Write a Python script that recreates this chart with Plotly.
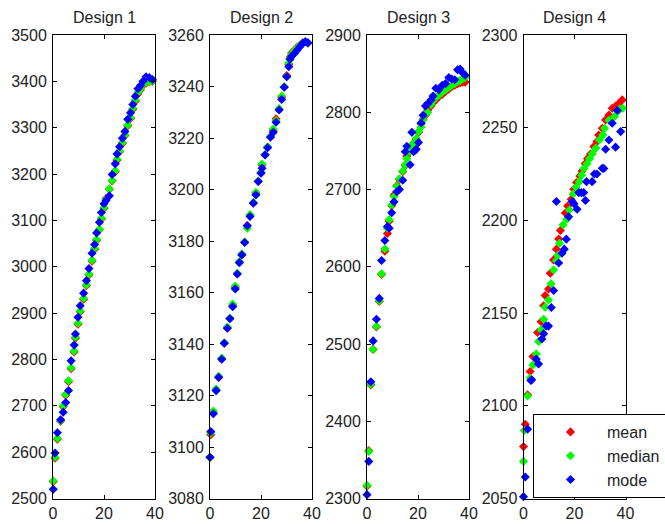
import plotly.graph_objects as go

titles = ["Design 1", "Design 2", "Design 3", "Design 4"]
x_tick_vals = [0, 20, 40]

# Design 1
d1_x = [0.1, 0.8, 1.7, 3.0, 4.0, 5.0, 6.1, 7.1, 8.3, 8.8, 9.8, 10.7, 12.0, 13.1, 14.1, 15.3, 16.3, 17.1, 18.2, 19.0,
        20.0, 20.8, 22.1, 23.2, 24.4, 25.1, 26.1, 27.2, 28.2, 29.3, 30.4, 31.3, 32.3, 33.3, 34.3, 35.3, 36.5, 37.8, 39.0]
d1_mean = [2536, 2587, 2628, 2667, 2698, 2723, 2752, 2780, 2816, 2846, 2876, 2903, 2930, 2959, 2982, 3012, 3038, 3057, 3080, 3103,
           3126, 3147, 3167, 3185, 3205, 3230, 3248, 3266, 3283, 3304, 3320, 3340, 3357, 3373, 3382, 3392, 3396, 3399, 3400]
d1_median = [2538, 2589, 2630, 2668, 2700, 2725, 2754, 2782, 2818, 2848, 2878, 2905, 2932, 2961, 2984, 3014, 3040, 3059, 3081, 3105,
             3128, 3145, 3168, 3186, 3207, 3232, 3250, 3268, 3285, 3306, 3322, 3342, 3360, 3376, 3384, 3394, 3398, 3400, 3401]
d1_mode = [2520, 2598, 2642, 2670, 2686, 2707, 2733, 2797, 2831, 2855, 2891, 2916, 2943, 2970, 2996, 3029, 3048, 3073, 3096, 3117,
           3136, 3143, 3153, 3199, 3222, 3243, 3259, 3277, 3292, 3318, 3332, 3350, 3368, 3384, 3391, 3400, 3410, 3408, 3404]

# Design 2
d2_x = [0.0, 0.3, 1.3, 2.4, 3.4, 4.6, 5.6, 6.8, 7.8, 8.9, 9.9, 10.7, 11.5, 12.5, 13.6, 14.6, 15.7, 17.0, 18.0, 18.9,
        20.0, 20.4, 21.6, 22.6, 23.7, 24.8, 25.9, 27.1, 28.1, 29.1, 30.1, 30.9, 31.4, 32.0, 33.2, 34.2, 35.3, 36.4, 37.4, 38.4]
d2_mean = [3096, 3104.8, 3113.5, 3122, 3127, 3134.3, 3140.3, 3146.3, 3150, 3155, 3162, 3167.3, 3171.8, 3174.7, 3179.5, 3186, 3190, 3194.8, 3198.5, 3203.2,
           3206.5, 3209.5, 3213.5, 3216.4, 3220.5, 3223, 3227.5, 3231.2, 3235.8, 3239.8, 3244.3, 3248.5, 3251.4, 3253, 3254.2, 3255.2, 3256.2, 3257, 3257.5, 3256.8]
d2_median = [3096, 3105.5, 3114, 3122.5, 3127.5, 3134.5, 3140.5, 3146.6, 3150, 3155.5, 3162.5, 3167.5, 3172, 3175, 3179.6, 3185, 3190.3, 3195, 3198.9, 3203.3,
             3206.8, 3209.9, 3213.6, 3216.6, 3220.6, 3223.5, 3226.8, 3231.4, 3236.3, 3239.9, 3243.8, 3249, 3251, 3252.5, 3254, 3255, 3256, 3256.9, 3257.4, 3256.9]
d2_mode = [3096, 3106, 3112.9, 3121.9, 3127.1, 3134.1, 3140.3, 3146.1, 3149.8, 3154.5, 3161.4, 3167.2, 3171.6, 3174.6, 3179.4, 3185.9, 3189.5, 3194.7, 3197.9, 3203.1,
           3206.3, 3208.3, 3213.4, 3216.2, 3220.3, 3222.2, 3226.1, 3230.9, 3235, 3239.7, 3243.8, 3247.7, 3250.6, 3251.7, 3252.9, 3254.2, 3255.5, 3256.8, 3257.4, 3257]

# Design 3
d3_x = [0, 0.7, 1.5, 2.4, 3.7, 4.8, 5.7, 7.0, 8.0, 8.7, 9.7, 10.6, 11.7, 12.7, 14.0, 15.0, 15.6, 16.9, 17.6, 18.3,
        19.3, 20.2, 21.2, 22.0, 22.9, 23.8, 25.1, 25.9, 27.0, 28.2, 29.5, 30.8, 32.1, 33.2, 34.4, 35.5, 36.5, 37.5, 38.5]
d3_mean = [2316, 2362, 2447, 2493, 2522, 2555, 2590, 2620, 2643, 2659, 2679, 2693, 2705, 2713, 2723, 2731, 2743, 2752, 2756, 2760,
           2765, 2774, 2785, 2791, 2796, 2803, 2808, 2812, 2816, 2820, 2823, 2827, 2830, 2833, 2835, 2837, 2838, 2839, 2839]
d3_median = [2317, 2361, 2448, 2493, 2523, 2556, 2591, 2623, 2650, 2661, 2680, 2691, 2704, 2714, 2724, 2732, 2740, 2749, 2755, 2760,
             2766, 2775, 2781, 2790, 2797, 2800, 2810, 2815, 2819, 2822, 2826, 2829, 2832, 2835, 2837, 2840, 2841, 2843, 2845]
d3_mode = [2305, 2348, 2451, 2504, 2532, 2559, 2608, 2634, 2652, 2650, 2670, 2684, 2697, 2700, 2712, 2749, 2756, 2732, 2774, 2749,
           2752, 2761, 2786, 2796, 2808, 2811, 2816, 2821, 2831, 2829, 2835, 2837, 2845, 2843, 2842, 2855, 2856, 2851, 2848]

# Design 4
d4_mean_x = [0, 0.7, 1.6, 2.6, 3.7, 5.5, 6.9, 7.9, 8.5, 9.8, 10.5, 11.8, 12.9, 13.8, 14.5, 16.4, 17.3, 18.7, 19.7, 20.8,
             22.1, 23.0, 24.2, 25.1, 26.3, 27.6, 28.8, 29.5, 30.9, 32.2, 33.5, 34.8, 36.1, 37.4, 38.7]
d4_mean = [2078, 2090, 2106, 2118.5, 2126.6, 2139.5, 2145.4, 2154, 2159.5, 2163, 2171.5, 2178.7, 2184.5, 2190, 2194.6, 2204, 2207.8, 2211.4, 2216.8, 2220.4,
           2224, 2226.6, 2230.6, 2233.3, 2235.8, 2239.8, 2242.5, 2246.1, 2249.7, 2254.2, 2256.8, 2260.5, 2261.7, 2263.1, 2265]
d4_median_x = [0, 0.3, 1.6, 2.6, 3.7, 5.0, 5.9, 6.9, 7.9, 8.5, 9.8, 10.8, 11.8, 12.9, 13.5, 14.1, 15.5, 17.0, 18.0, 19.5,
               20.6, 21.9, 22.8, 23.7, 24.9, 25.9, 27.0, 28.4, 29.8, 31.1, 31.8, 33.5, 35.7, 36.8, 37.7, 38.9]
d4_median = [2070, 2086.7, 2105.3, 2115, 2122, 2128, 2134.7, 2141, 2146.7, 2153.2, 2157.1, 2165.8, 2173.3, 2178.3, 2181.2, 2187.7, 2197.6, 2200.6, 2205.6, 2214.2,
             2217.9, 2220.9, 2224.4, 2228, 2230.6, 2233.3, 2236, 2239, 2243.4, 2246, 2249.7, 2254, 2256, 2258.7, 2260, 2260.5]
d4_mode_x = [0, 0.7, 1.6, 2.9, 3.2, 5.0, 5.9, 7.2, 7.9, 8.9, 9.8, 10.9, 11.8, 12.9, 13.8, 15.1, 16.0, 16.8, 17.7, 19.1,
             19.8, 21.0, 21.7, 22.7, 23.6, 24.3, 24.7, 26.9, 27.8, 28.8, 30.9, 31.5, 32.2, 33.5, 34.8, 36.1, 36.8, 38.1]
d4_mode = [2051, 2061.6, 2087.4, 2113.7, 2114, 2125.2, 2122.6, 2136, 2138.8, 2143.1, 2143, 2153, 2162.2, 2210.2, 2177, 2182.3, 2184.5, 2189.9, 2202, 2210.2,
           2209, 2206, 2215, 2215, 2215, 2210.7, 2220.9, 2220.9, 2225, 2225, 2228.1, 2228, 2238.4, 2243.4, 2252.4, 2239.5, 2259.3, 2247.9]

y_ranges = [[2500, 3500], [3080, 3260], [2300, 2900], [2050, 2300]]
y_dticks = [100, 20, 100, 50]

designs = [
    ((d1_x, d1_mean), (d1_x, d1_median), (d1_x, d1_mode)),
    ((d2_x, d2_mean), (d2_x, d2_median), (d2_x, d2_mode)),
    ((d3_x, d3_mean), (d3_x, d3_median), (d3_x, d3_mode)),
    ((d4_mean_x, d4_mean), (d4_median_x, d4_median), (d4_mode_x, d4_mode)),
]
series_names = ["mean", "median", "mode"]
series_colors = ["#ff0000", "#00ff00", "#0000ff"]

W, H = 665, 524
x_left_px = [53, 210, 367, 523.5]
plot_w_px = 102
top_px, bottom_px = 35, 498.5
ydom = [1 - bottom_px / H, 1 - top_px / H]

fig = go.Figure()
font_family = "Liberation Sans, Arial, sans-serif"

for i, series in enumerate(designs):
    k = "" if i == 0 else str(i + 1)
    for j, (xs, ys) in enumerate(series):
        fig.add_trace(go.Scatter(
            x=xs, y=ys, mode="markers", name=series_names[j],
            marker=dict(symbol="diamond", size=7, color=series_colors[j], line=dict(width=0)),
            xaxis="x" + k, yaxis="y" + k, showlegend=(i == 3), cliponaxis=False,
            legendgroup=series_names[j],
        ))
    xd = [x_left_px[i] / W, (x_left_px[i] + plot_w_px) / W]
    axis_common = dict(showline=True, linecolor="black", linewidth=1, mirror="allticks",
                       ticks="inside", ticklen=4, tickcolor="black", showgrid=False, zeroline=False,
                       tickfont=dict(family=font_family, size=16, color="#222222"))
    fig.layout["xaxis" + k] = dict(domain=xd, anchor="y" + k, range=[0, 40], tickvals=x_tick_vals, **axis_common)
    fig.layout["yaxis" + k] = dict(domain=ydom, anchor="x" + k, range=y_ranges[i], dtick=y_dticks[i],
                                   ticklabelstandoff=2, **axis_common)
    fig.add_annotation(text=titles[i], x=(xd[0] + xd[1]) / 2, y=1 - 17 / H, xref="paper", yref="paper",
                       xanchor="center", yanchor="middle", showarrow=False,
                       font=dict(family=font_family, size=16, color="#222222"))

fig.update_layout(
    width=W, height=H,
    margin=dict(l=0, r=0, t=0, b=0, autoexpand=False),
    plot_bgcolor="white", paper_bgcolor="white",
    legend=dict(x=533 / W, y=1 - 414 / H, xanchor="left", yanchor="top",
                bordercolor="black", borderwidth=1, bgcolor="white",
                font=dict(family=font_family, size=16, color="#222222"),
                itemwidth=63, tracegroupgap=0, entrywidth=150, entrywidthmode="pixels"),
)

fig.write_html("out.html", config={"displayModeBar": False},
               post_script="document.body.style.margin='0';document.body.style.overflow='hidden';")
